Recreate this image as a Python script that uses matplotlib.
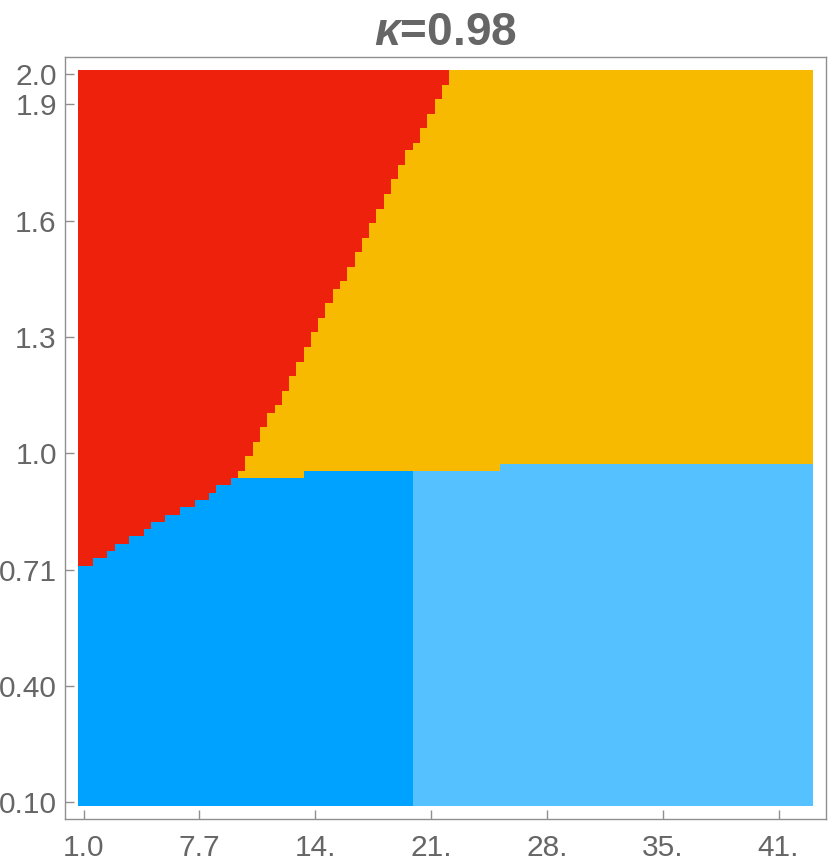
import numpy as np
import matplotlib.pyplot as plt
from matplotlib.colors import ListedColormap

plt.rcParams['font.family'] = ['Liberation Sans', 'DejaVu Sans']
plt.rcParams['mathtext.fontset'] = 'custom'
plt.rcParams['mathtext.it'] = 'Liberation Sans:italic:bold'

# Sampling grid (cell centres)
n_cols = 101
n_rows = 101
x_centres = (1.0, 43.0)
y_centres = (0.1, 2.0)

# Blue region height (rows from bottom), given as runs of columns
blue_run_len = [2, 2, 1, 2, 2, 1, 2, 2, 2, 2, 1, 2, 10, 27, 43]
blue_run_top = [33, 34, 35, 36, 37, 38, 39, 40, 41, 42, 43, 44, 45, 46, 47]

# Red / yellow border: top row of yellow for each column starting at column 22
border_first_col = 22
yellow_top = [46, 48, 50, 52, 54, 55, 57, 59, 61, 63, 65, 67, 69, 71, 72,
              74, 76, 78, 80, 82, 84, 86, 88, 90, 91, 93, 95, 97, 99]

# Light blue starts at this column
light_blue_first_col = 46

region_colors = ['#EE220C', '#F8BA00', '#00A2FF', '#56C1FF']

xtick_labels = ['1.0', '7.7', '14.', '21.', '28.', '35.', '41.']
ytick_labels = ['0.10', '0.40', '0.71', '1.0', '1.3', '1.6', '1.9', '2.0']
title = r'$\kappa$=0.98'

# Build the categorical grid: 0 red, 1 yellow, 2 blue, 3 light blue
blue_top = np.repeat(blue_run_top, blue_run_len)
yel_top = blue_top.copy()
end = border_first_col + len(yellow_top)
yel_top[border_first_col:end] = yellow_top
yel_top[end:] = n_rows

rows = np.arange(n_rows)[:, None]
cols = np.arange(n_cols)[None, :]
grid = np.zeros((n_rows, n_cols), dtype=int)
grid[rows < yel_top[None, :]] = 1
blue = rows < blue_top[None, :]
grid[blue] = 2
grid[blue & (cols >= light_blue_first_col)] = 3

dx = (x_centres[1] - x_centres[0]) / (n_cols - 1)
dy = (y_centres[1] - y_centres[0]) / (n_rows - 1)
x_edges = np.linspace(x_centres[0] - dx / 2, x_centres[1] + dx / 2, n_cols + 1)
y_edges = np.linspace(y_centres[0] - dy / 2, y_centres[1] + dy / 2, n_rows + 1)

fig = plt.figure(figsize=(8.3, 8.65), dpi=100)
ax = fig.add_axes([64.5 / 830, 46 / 865, 761.5 / 830, 762.3 / 865])

ax.pcolormesh(x_edges, y_edges, grid, cmap=ListedColormap(region_colors),
              vmin=-0.5, vmax=3.5, shading='flat', antialiased=False)

ax.set_xlim(x_edges[0] - 0.79, x_edges[-1] + 0.77)
ax.set_ylim(y_edges[0] - 0.034, y_edges[-1] + 0.035)

xticks = 1.10 + 6.69 * np.arange(len(xtick_labels))
yticks = list(0.1 + (1.82 / 6) * np.arange(7)) + [2.0]
ax.set_xticks(xticks)
ax.set_xticklabels(xtick_labels)
ax.set_yticks(yticks)
ax.set_yticklabels(ytick_labels)

grey = '#8f8f8f'
for s in ax.spines.values():
    s.set_color(grey)
    s.set_linewidth(1.0)
ax.tick_params(direction='in', length=6.5, width=1.0, color=grey,
               labelcolor='#666666', labelsize=21.5)
ax.tick_params(axis='x', pad=11)
ax.tick_params(axis='y', pad=5.5)

ax.set_title(title, fontsize=33, fontweight='bold', color='#666666', pad=8.5)

fig.savefig('out.png', dpi=100)
